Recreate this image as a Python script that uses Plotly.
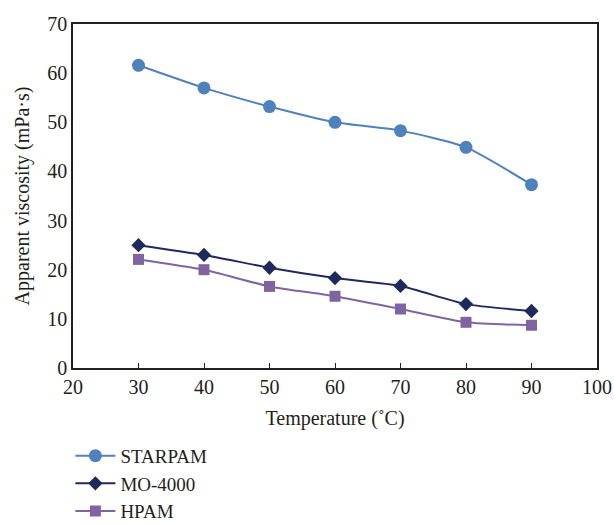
import plotly.graph_objects as go

temps = [30, 40, 50, 60, 70, 80, 90]
starpam = [61.6, 57.0, 53.2, 50.0, 48.3, 44.9, 37.3]
mo4000 = [25.0, 23.0, 20.4, 18.3, 16.7, 13.0, 11.6]
hpam = [22.1, 20.0, 16.6, 14.6, 12.0, 9.3, 8.7]

FONT = "Liberation Serif"

fig = go.Figure()
fig.add_trace(go.Scatter(x=temps, y=starpam, name="STARPAM", mode="lines+markers",
                         line=dict(color="#4f81bd", width=2, shape="spline", smoothing=0.6),
                         marker=dict(symbol="circle", size=13, color="#4f81bd")))
fig.add_trace(go.Scatter(x=temps, y=mo4000, name="MO-4000", mode="lines+markers",
                         line=dict(color="#1f2a5c", width=2, shape="spline", smoothing=0.6),
                         marker=dict(symbol="diamond", size=11, color="#1f2a5c")))
fig.add_trace(go.Scatter(x=temps, y=hpam, name="HPAM", mode="lines+markers",
                         line=dict(color="#8064a2", width=2, shape="spline", smoothing=0.6),
                         marker=dict(symbol="square", size=11, color="#8064a2")))

fig.update_layout(
    width=614, height=525,
    margin=dict(l=73, r=17, t=24, b=157, autoexpand=False),
    paper_bgcolor="white", plot_bgcolor="white",
    font=dict(family=FONT, size=20, color="#231f20"),
    xaxis=dict(range=[20, 100], dtick=10, tick0=20, showgrid=False, zeroline=False,
               showline=True, linecolor="#231f20", linewidth=1.5, mirror=True,
               ticks="inside", ticklen=5, tickcolor="#231f20", automargin=False,
               title=dict(text="Temperature (˚C)", font=dict(size=20), standoff=14)),
    yaxis=dict(range=[0, 70], dtick=10, showgrid=False, zeroline=False,
               showline=True, linecolor="#231f20", linewidth=1.5, mirror=True, automargin=False,
               ticks="", title=dict(text="Apparent viscosity (mPa·s)", font=dict(size=20), standoff=12)),
    legend=dict(x=-0.005, y=0.168, yref="container", xanchor="left", yanchor="top", orientation="v",
                font=dict(size=19), tracegroupgap=0, itemwidth=40),
    showlegend=True,
)

fig.write_html("out.html")
